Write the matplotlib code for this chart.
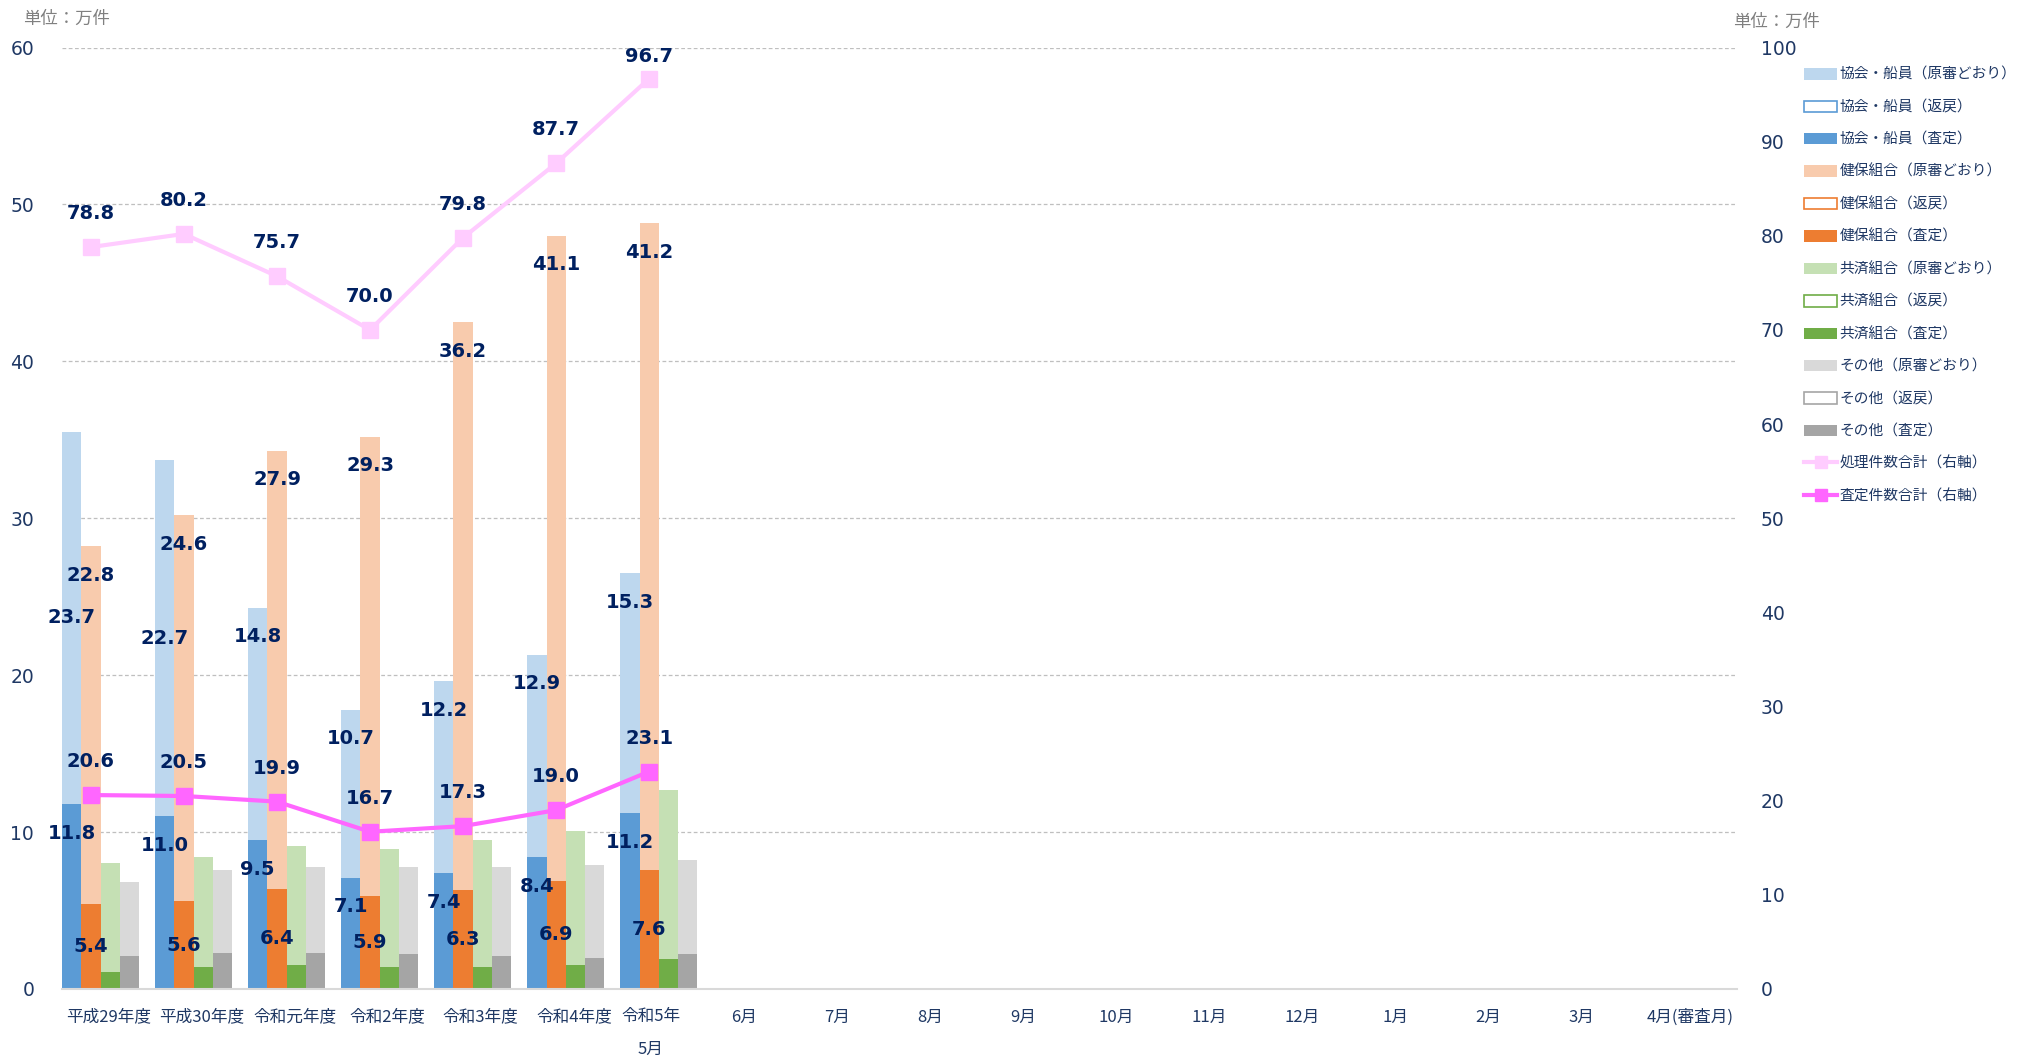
import numpy as np
import matplotlib
matplotlib.use('Agg')
import matplotlib.pyplot as plt
from matplotlib.patches import Patch
from matplotlib.lines import Line2D
from matplotlib.transforms import ScaledTranslation

plt.rcParams['font.family'] = ['DejaVu Sans', 'Noto Sans CJK JP']
JP = ['Noto Sans CJK JP', 'DejaVu Sans']

# 横軸（年度・審査月）
cats = ['平成29年度', '平成30年度', '令和元年度', '令和2年度', '令和3年度', '令和4年度', '令和5年\n5月',
        '6月', '7月', '8月', '9月', '10月', '11月', '12月', '1月', '2月', '3月', '4月(審査月)']

# 単位：万件
kyokai_satei = [11.8, 11.0, 9.5, 7.1, 7.4, 8.4, 11.2]
kyokai_gen = [23.7, 22.7, 14.8, 10.7, 12.2, 12.9, 15.3]
kenpo_satei = [5.4, 5.6, 6.4, 5.9, 6.3, 6.9, 7.6]
kenpo_gen = [22.8, 24.6, 27.9, 29.3, 36.2, 41.1, 41.2]
kyosai_satei = [1.1, 1.4, 1.5, 1.4, 1.4, 1.5, 1.9]
kyosai_gen = [6.9, 7.0, 7.6, 7.5, 8.1, 8.6, 10.8]
sonota_satei = [2.1, 2.3, 2.3, 2.2, 2.1, 2.0, 2.2]
sonota_gen = [4.7, 5.3, 5.5, 5.6, 5.7, 5.9, 6.0]
shori_total = [78.8, 80.2, 75.7, 70.0, 79.8, 87.7, 96.7]   # 右軸
satei_total = [20.6, 20.5, 19.9, 16.7, 17.3, 19.0, 23.1]   # 右軸

NAVY = '#002060'
TICK = '#1F3864'

fig = plt.figure(figsize=(20.18, 10.59), dpi=100)
ax = fig.add_axes([62/2018, 1-989/1059, (1737-62)/2018, (989-47.5)/1059])
ax2 = ax.twinx()

n = len(shori_total)
x = np.arange(n)
w = 0.207
groups = [
    ('協会・船員', kyokai_satei, kyokai_gen, '#5B9BD5', '#BDD7EE'),
    ('健保組合', kenpo_satei, kenpo_gen, '#ED7D31', '#F8CBAD'),
    ('共済組合', kyosai_satei, kyosai_gen, '#70AD47', '#C5E0B4'),
    ('その他', sonota_satei, sonota_gen, '#A5A5A5', '#D9D9D9'),
]

lbl = dict(ha='center', va='center', color=NAVY, fontsize=14, fontweight='bold')
for k, (name, sa, gen, c_dark, c_light) in enumerate(groups):
    xs = x - 0.5 + w * (k + 0.5)
    ax.bar(xs, sa, w, color=c_dark, zorder=2)
    ax.bar(xs, gen, w, bottom=sa, color=c_light, zorder=2)
    if k == 0:
        for i in range(n):
            ax.annotate(f'{sa[i]:.1f}', (xs[i], sa[i]), xytext=(0, -21),
                        textcoords='offset points', **lbl)
            if i < 2:   # 重なり回避で中央に移動
                ax.text(xs[i], sa[i] + gen[i] / 2, f'{gen[i]:.1f}', **lbl)
            else:
                ax.annotate(f'{gen[i]:.1f}', (xs[i], sa[i] + gen[i]), xytext=(0, -21),
                            textcoords='offset points', **lbl)
    elif k == 1:
        for i in range(n):
            ax.text(xs[i], sa[i] / 2, f'{sa[i]:.1f}', **lbl)
            ax.annotate(f'{gen[i]:.1f}', (xs[i], sa[i] + gen[i]), xytext=(0, -21),
                        textcoords='offset points', **lbl)

# 折れ線（右軸）
ax2.set_ylim(0, 100)
xl = x - 0.5 + w * 1.5
ax2.plot(xl, shori_total, color='#FFCCFF', lw=3, marker='s', ms=11, zorder=3)
ax2.plot(xl, satei_total, color='#FF66FF', lw=3, marker='s', ms=11, zorder=3)
pt_per_unit = (989 - 47.5) / 100 * 0.72
for i in range(n):
    # 上端を超えないようにラベル位置を抑える
    off = min(24, (100 - shori_total[i]) * pt_per_unit - 6.5)
    ax2.annotate(f'{shori_total[i]:.1f}', (xl[i], shori_total[i]), xytext=(0, off),
                 textcoords='offset points', **lbl)
    ax2.annotate(f'{satei_total[i]:.1f}', (xl[i], satei_total[i]), xytext=(0, 24),
                 textcoords='offset points', **lbl)

ax.set_xlim(-0.5, len(cats) - 0.5)
ax.set_ylim(0, 60)
ax.set_yticks(range(0, 61, 10))
ax2.set_yticks(range(0, 101, 10))
ax.set_xticks(range(len(cats)))
ax.set_xticklabels(cats, fontsize=12, color=TICK, family=JP, linespacing=2.2)

ax.yaxis.grid(True, ls=(0, (3, 2)), color='#BFBFBF', lw=0.9)
ax.set_axisbelow(True)
for s in ['top', 'left', 'right']:
    ax.spines[s].set_visible(False)
    ax2.spines[s].set_visible(False)
ax2.spines['bottom'].set_visible(False)
ax.spines['bottom'].set_color('#D9D9D9')
ax.spines['bottom'].set_linewidth(1.5)
ax.tick_params(axis='y', length=0, pad=20, labelsize=13.5, labelcolor=TICK)
ax.tick_params(axis='x', length=0, pad=14)
ax2.tick_params(axis='y', length=0, pad=17, labelsize=13.5, labelcolor=TICK)

# 月ラベルは少し左寄せ
for i, t in enumerate(ax.get_xticklabels()):
    if 6 <= i <= 16:
        t.set_transform(t.get_transform() + ScaledTranslation(-16/100, 0, fig.dpi_scale_trans))

fig.text(23/2018, 1-19/1059, '単位：万件', va='center', color='#808080', fontsize=12.5, family=JP)
fig.text(1733/2018, 1-22/1059, '単位：万件', va='center', color='#808080', fontsize=12.5, family=JP)

# 凡例
handles, labels = [], []
for name, sa, gen, c_dark, c_light in groups:
    handles += [Patch(facecolor=c_light), Patch(facecolor='white', edgecolor=c_dark, lw=1.2),
                Patch(facecolor=c_dark)]
    labels += [f'{name}（原審どおり）', f'{name}（返戻）', f'{name}（査定）']
handles += [Line2D([], [], color='#FFCCFF', lw=3, marker='s', ms=8),
            Line2D([], [], color='#FF66FF', lw=3, marker='s', ms=8)]
labels += ['処理件数合計（右軸）', '査定件数合計（右軸）']
fig.legend(handles, labels, loc='upper left', bbox_to_anchor=(1804/2018, 1-68/1059),
           frameon=False, prop={'family': JP, 'size': 10.6}, labelcolor=TICK,
           handlelength=2.25, handleheight=0.8, handletextpad=0.15, labelspacing=1.24,
           borderaxespad=0, borderpad=0)

fig.savefig('out.png', dpi=100)
